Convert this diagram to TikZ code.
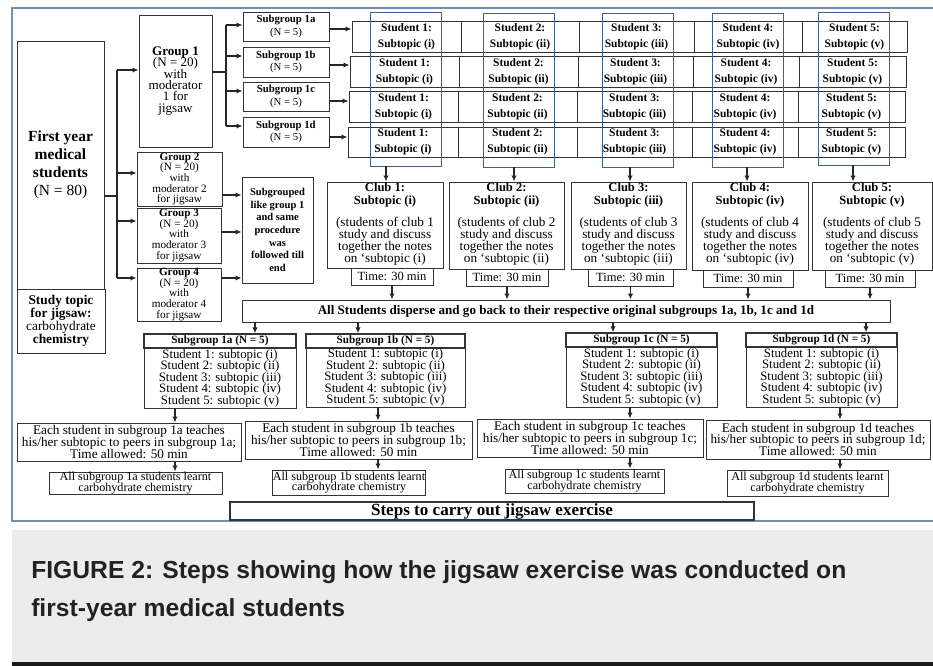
\documentclass[tikz,border=0pt]{standalone}
\usepackage{fontspec}
\setmainfont{Liberation Serif}
\newfontfamily\capfont{Liberation Sans}
\usetikzlibrary{arrows.meta}
\definecolor{frameblue}{HTML}{7090B0}
\definecolor{colblue}{HTML}{3F5F8F}
\definecolor{capgray}{HTML}{ECECEC}
\definecolor{captext}{HTML}{222222}
\newcommand\fs[2]{\fontsize{#1pt}{#2pt}\selectfont\lineskiplimit=-100pt\relax}
\newcommand\bx[7][]{\node[box,minimum width={(#5-#3)*0.75pt},minimum height={(#6-#4)*0.75pt},#1] (#2) at ({(#3+#5)/2},{(#4+#6)/2}) {#7};}
\newcommand\srow[9]{%
 \bx[cellbox]{r#1c1}{#4}{#2}{#5}{#3}{Student 1:\\Subtopic (i)}
 \bx[cellbox]{r#1c2}{#5}{#2}{#6}{#3}{Student 2:\\Subtopic (ii)}
 \bx[cellbox]{r#1c3}{#6}{#2}{#7}{#3}{Student 3:\\Subtopic (iii)}
 \bx[cellbox]{r#1c4}{#7}{#2}{#8}{#3}{Student 4:\\Subtopic (iv)}
 \bx[cellbox]{r#1c5}{#8}{#2}{#9}{#3}{Student 5:\\Subtopic (v)}
}
\newcommand\club[9]{%
 \bx{club#1}{#2}{182}{#3}{#4}{}
 \node[txt,font=\bfseries\fs{9.4}{10.2}] (club#1t) at ({(#2+#3)/2},195) {Club #1:\\Subtopic (#9)};
 \node[txt,font=\fs{9.9}{9}] (club#1b) at ({(#2+#3)/2},241.5) {(students of club #1\\study and discuss\\together the notes\\on ‘subtopic (#9)};
 \bx[font=\fs{9.4}{9.4}]{time#1}{#5}{#4}{#6}{#7}{Time: 30 min}
}
\begin{document}
\begin{tikzpicture}[x=0.75pt,y=-0.75pt,
 box/.style={draw=black!80,line width=0.7pt,inner sep=0pt,align=center,fill=white},
 cellbox/.style={font=\bfseries\fs{8.6}{12}},
 arr/.style={draw=black!85,line width=0.9pt,-{Latex[length=4.5pt,width=4pt]}},
 ln/.style={draw=black!85,line width=0.9pt},
 txt/.style={inner sep=0pt,align=center},
 captxt/.style={inner sep=0pt,anchor=base west,text=captext,font=\capfont\bfseries\fs{18.5}{22}},
 bluecol/.style={draw=colblue,fill=none,line width=0.6pt}]
\useasboundingbox (0,0) rectangle (933,666);
% frame
\coordinate (fr1) at (933,8); \coordinate (fr2) at (12,8);
\coordinate (fr3) at (12,521); \coordinate (fr4) at (933,521);
\draw[frameblue,line width=0.8pt] (fr1) -- (fr2) -- (fr3) -- (fr4);
% caption
\fill[capgray] (12,530) rectangle (933,662);
\fill[black!90] (12,662) rectangle (933,666);
\node[captxt] (cap1) at (31,579) {FIGURE 2: Steps showing how the jigsaw exercise was conducted on};
\node[captxt] (cap2) at (31,617) {first-year medical students};
% left column
\bx[font=\bfseries\fs{11.6}{13.5}]{fy}{17}{41}{104}{289}{First year\\medical\\students\\\mdseries(N = 80)}
\bx[font=\bfseries\fs{10}{9.75}]{st}{17}{289}{105}{353}{Study topic\\for jigsaw:\\\mdseries carbohydrate\\chemistry}
% groups
\bx[font=\fs{9.8}{8.5}]{g1}{139}{15}{212}{147}{\textbf{Group 1}\\(N = 20)\\with\\moderator\\1 for\\jigsaw}
\bx[font=\fs{8.4}{8.0}]{g2}{137}{152}{222}{206}{\textbf{Group 2}\\(N = 20)\\with\\moderator 2\\for jigsaw}
\bx[font=\fs{8.4}{8.0}]{g3}{137}{208}{221}{263}{\textbf{Group 3}\\(N = 20)\\with\\moderator 3\\for jigsaw}
\bx[font=\fs{8.4}{8.0}]{g4}{137}{268}{221}{321}{\textbf{Group 4}\\(N = 20)\\with\\moderator 4\\for jigsaw}
\bx[font=\bfseries\fs{7.9}{9.5}]{sg}{242}{177}{313}{283}{Subgrouped\\like group 1\\and same\\procedure\\was\\followed till\\end}
% subgroups
\bx[font=\fs{8.1}{9.5}]{s1a}{243}{12}{329}{41}{\textbf{Subgroup 1a}\\(N = 5)}
\bx[font=\fs{8.1}{9.5}]{s1b}{243}{47}{329}{77}{\textbf{Subgroup 1b}\\(N = 5)}
\bx[font=\fs{8.1}{9.5}]{s1c}{243}{82}{329}{111}{\textbf{Subgroup 1c}\\(N = 5)}
\bx[font=\fs{8.1}{9.5}]{s1d}{243}{117}{329}{147}{\textbf{Subgroup 1d}\\(N = 5)}
% trunk
\coordinate (j0) at (117,196); \coordinate (j1) at (117,70); \coordinate (j2) at (117,173);
\coordinate (j3) at (117,221); \coordinate (j4) at (117,278);
\draw[ln] (j0 -| fy.east) -- (j0);
\draw[ln] (j1) -- (j4);
\draw[arr] (j1) -- (j1 -| g1.west);
\draw[arr] (j2) -- (j2 -| g2.west);
\draw[arr] (j3) -- (j3 -| g3.west);
\draw[arr] (j4) -- (j4 -| g4.west);
\coordinate (k0) at (226,72); \coordinate (k1) at (226,25); \coordinate (k2) at (226,56);
\coordinate (k3) at (226,91); \coordinate (k4) at (226,126);
\draw[ln] (k0 -| g1.east) -- (k0);
\draw[ln] (k1) -- (k4);
\draw[arr] (k1) -- (k1 -| s1a.west);
\draw[arr] (k2) -- (k2 -| s1b.west);
\draw[arr] (k3) -- (k3 -| s1c.west);
\draw[arr] (k4) -- (k4 -| s1d.west);
\coordinate (m2) at (0,195); \coordinate (m3) at (0,232); \coordinate (m4) at (0,278);
\draw[arr] (m2 -| g2.east) -- (m2 -| sg.west);
\draw[arr] (m3 -| g3.east) -- (m3 -| sg.west);
\draw[arr] (m4 -| g4.east) -- (m4 -| sg.west);
% student rows
\srow{1}{21}{52}{352}{461}{579}{694}{802}{907}
\srow{2}{56}{87}{350}{459}{578}{693}{799}{906}
\srow{3}{91}{122}{349}{458}{577}{692}{798}{905}
\srow{4}{127}{157}{348}{458}{577}{692}{798}{905}
\coordinate (n1) at (0,29); \coordinate (n2) at (0,65); \coordinate (n3) at (0,101); \coordinate (n4) at (0,137);
\draw[arr] (n1 -| s1a.east) -- (n1 -| r1c1.west);
\draw[arr] (n2 -| s1b.east) -- (n2 -| r2c1.west);
\draw[arr] (n3 -| s1c.east) -- (n3 -| r3c1.west);
\draw[arr] (n4 -| s1d.east) -- (n4 -| r4c1.west);
% blue columns
\bx[bluecol]{col1}{370}{12}{441}{166}{}
\bx[bluecol]{col2}{483}{13}{554}{167}{}
\bx[bluecol]{col3}{602}{13}{673}{167}{}
\bx[bluecol]{col4}{712}{13}{783}{167}{}
\bx[bluecol]{col5}{818}{12}{889}{165}{}
% clubs
\club{1}{327}{443}{268}{351}{433}{285}{}{i}
\club{2}{449}{564}{269}{466}{548}{286}{}{ii}
\club{3}{571}{686}{269}{588}{673}{286}{}{iii}
\club{4}{692}{808}{270}{703}{793}{287}{}{iv}
\club{5}{812}{932}{270}{825}{915}{287}{}{v}
\coordinate (p1) at (386,0); \coordinate (p2) at (514,0); \coordinate (p3) at (630,0);
\coordinate (p4) at (747,0); \coordinate (p5) at (853,0);
\draw[arr] (col1.south -| p1) -- (club1.north -| p1);
\draw[arr] (col2.south -| p2) -- (club2.north -| p2);
\draw[arr] (col3.south -| p3) -- (club3.north -| p3);
\draw[arr] (col4.south -| p4) -- (club4.north -| p4);
\draw[arr] (col5.south -| p5) -- (club5.north -| p5);
% bar
\bx[font=\bfseries\fs{9.8}{9.8}]{bar}{242}{300}{890}{322}{All Students disperse and go back to their respective original subgroups 1a, 1b, 1c and 1d}
\draw[arr] (time1.south) -- (time1.south |- bar.north);
\draw[arr] (time2.south) -- (time2.south |- bar.north);
\draw[arr] (time3.south) -- (time3.south |- bar.north);
\draw[arr] (time4.south) -- (time4.south |- bar.north);
\draw[arr] (time5.south) -- (time5.south |- bar.north);
% bottom subgroups
\bx[font=\bfseries\fs{8.4}{8.4},line width=1pt]{b1ah}{144}{334}{296}{348}{Subgroup 1a (N = 5)}
\bx[font=\fs{9.6}{8.6}]{b1a}{144}{348}{296}{408}{Student 1: subtopic (i)\\Student 2: subtopic (ii)\\Student 3: subtopic (iii)\\Student 4: subtopic (iv)\\Student 5: subtopic (v)}
\bx[font=\bfseries\fs{8.4}{8.4},line width=1pt]{b1bh}{306}{334}{465}{348}{Subgroup 1b (N = 5)}
\bx[font=\fs{9.6}{8.6}]{b1b}{306}{348}{465}{407}{Student 1: subtopic (i)\\Student 2: subtopic (ii)\\Student 3: subtopic (iii)\\Student 4: subtopic (iv)\\Student 5: subtopic (v)}
\bx[font=\bfseries\fs{8.4}{8.4},line width=1pt]{b1ch}{566}{333}{717}{347}{Subgroup 1c (N = 5)}
\bx[font=\fs{9.6}{8.6}]{b1c}{566}{347}{717}{407}{Student 1: subtopic (i)\\Student 2: subtopic (ii)\\Student 3: subtopic (iii)\\Student 4: subtopic (iv)\\Student 5: subtopic (v)}
\bx[font=\bfseries\fs{8.4}{8.4},line width=1pt]{b1dh}{746}{333}{897}{347}{Subgroup 1d (N = 5)}
\bx[font=\fs{9.6}{8.6}]{b1d}{746}{347}{897}{407}{Student 1: subtopic (i)\\Student 2: subtopic (ii)\\Student 3: subtopic (iii)\\Student 4: subtopic (iv)\\Student 5: subtopic (v)}
\coordinate (q1) at (255,0); \coordinate (q2) at (358,0); \coordinate (q3) at (613,0); \coordinate (q4) at (866,0);
\draw[arr] (bar.south -| q1) -- (b1ah.north -| q1);
\draw[arr] (bar.south -| q2) -- (b1bh.north -| q2);
\draw[arr] (bar.south -| q3) -- (b1ch.north -| q3);
\draw[arr] (bar.south -| q4) -- (b1dh.north -| q4);
% teach
\bx[font=\fs{9.9}{8.8}]{t1a}{17}{423}{241}{461}{Each student in subgroup 1a teaches\\his/her subtopic to peers in subgroup 1a;\\Time allowed: 50 min}
\bx[font=\fs{9.9}{8.8}]{t1b}{245}{421}{472}{459}{Each student in subgroup 1b teaches\\his/her subtopic to peers in subgroup 1b;\\Time allowed: 50 min}
\bx[font=\fs{9.9}{8.8}]{t1c}{477}{419}{703}{457}{Each student in subgroup 1c teaches\\his/her subtopic to peers in subgroup 1c;\\Time allowed: 50 min}
\bx[font=\fs{9.9}{8.8}]{t1d}{706}{420}{930}{459}{Each student in subgroup 1d teaches\\his/her subtopic to peers in subgroup 1d;\\Time allowed: 50 min}
% learnt
\bx[font=\fs{9.1}{8.0}]{l1a}{49}{472}{222}{494}{All subgroup 1a students learnt\\carbohydrate chemistry}
\bx[font=\fs{9.1}{8.0}]{l1b}{273}{470}{425}{495}{All subgroup 1b students learnt\\carbohydrate chemistry}
\bx[font=\fs{9.1}{8.0}]{l1c}{505}{469}{664}{493}{All subgroup 1c students learnt\\carbohydrate chemistry}
\bx[font=\fs{9.1}{8.0}]{l1d}{727}{470}{888}{496}{All subgroup 1d students learnt\\carbohydrate chemistry}
\coordinate (xa) at (175,0); \coordinate (xb) at (378,0); \coordinate (xc) at (630,0); \coordinate (xd) at (840,0);
\draw[arr] (b1a.south -| xa) -- (t1a.north -| xa);
\draw[arr] (b1b.south -| xb) -- (t1b.north -| xb);
\draw[arr] (b1c.south -| xc) -- (t1c.north -| xc);
\draw[arr] (b1d.south -| xd) -- (t1d.north -| xd);
\draw[arr] (t1a.south -| xa) -- (l1a.north -| xa);
\draw[arr] (t1b.south -| xb) -- (l1b.north -| xb);
\draw[arr] (t1c.south -| xc) -- (l1c.north -| xc);
\draw[arr] (t1d.south -| xd) -- (l1d.north -| xd);
% steps
\bx[font=\bfseries\fs{12.8}{12.8},line width=1.5pt]{steps}{230}{502}{754}{520}{Steps to carry out jigsaw exercise}
\end{tikzpicture}
\end{document}
